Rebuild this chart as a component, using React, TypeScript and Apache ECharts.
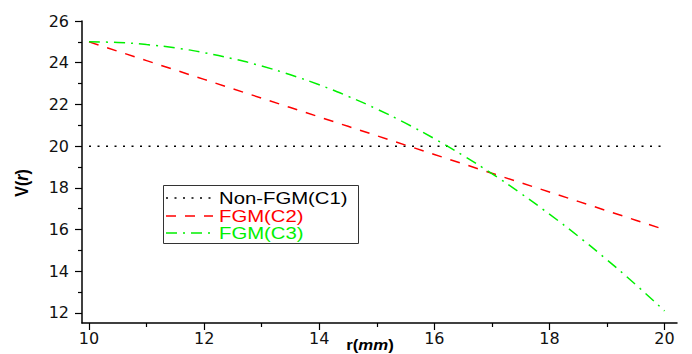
import React, { useEffect, useRef } from 'react';
import * as echarts from 'echarts';

// radius r (mm)
const rValues = [10, 10.5, 11, 11.5, 12, 12.5, 13, 13.5, 14, 14.5, 15, 15.5, 16, 16.5, 17, 17.5, 18, 18.5, 19, 19.5, 20];
// Non-FGM (C1)
const c1Values = [20, 20, 20, 20, 20, 20, 20, 20, 20, 20, 20, 20, 20, 20, 20, 20, 20, 20, 20, 20, 20];
// FGM (C2)
const c2Values = [25, 24.55, 24.1, 23.65, 23.2, 22.75, 22.3, 21.85, 21.4, 20.95, 20.5, 20.05, 19.6, 19.15, 18.7, 18.25, 17.8, 17.35, 16.9, 16.45, 16.0];
// FGM (C3)
const c3Values = [25, 24.97, 24.87, 24.71, 24.48, 24.19, 23.84, 23.42, 22.94, 22.39, 21.78, 21.1, 20.36, 19.55, 18.68, 17.74, 16.74, 15.68, 14.55, 13.36, 12.1];

const seriesNames = ['Non-FGM(C1)', 'FGM(C2)', 'FGM(C3)'];
const seriesColors = ['#000000', '#ff0000', '#00f000'];

const xMajorTicks = [10, 12, 14, 16, 18, 20];
const xMinorTicks = [11, 13, 15, 17, 19];
const yMajorTicks = [12, 14, 16, 18, 20, 22, 24, 26];
const yMinorTicks = [13, 15, 17, 19, 21, 23, 25];

const FONT = 'DejaVu Sans, Arial, sans-serif';
const LFONT = 'Liberation Sans, Arial, sans-serif';

export default function App() {
  const ref = useRef<HTMLDivElement>(null);
  useEffect(() => {
    if (!ref.current) return;
    const chart = echarts.init(ref.current, null, { renderer: 'svg' });
    const pairs = (ys: number[]) => rValues.map((r, i) => [r, ys[i]]);
    const dashes = [[2, 6.5], [10, 9], [11, 6, 2, 6]];
    const lineW = 1.5;

    const xMin = 9.878, xMax = 20.217, yMin = 11.52, yMax = 26;

    const legendRows = [198, 216, 233];
    const legendEls: any[] = [
      {
        type: 'rect',
        shape: { x: 163.5, y: 185.5, width: 195, height: 58 },
        style: { fill: '#fff', stroke: '#333', lineWidth: 1 },
        z: 10,
      },
    ];
    seriesNames.forEach((name, i) => {
      legendEls.push({
        type: 'line',
        shape: { x1: 166, y1: legendRows[i], x2: 213, y2: legendRows[i] },
        style: { stroke: seriesColors[i], lineWidth: lineW, lineDash: dashes[i] },
        z: 11,
      });
      legendEls.push({
        type: 'text',
        x: 219,
        y: legendRows[i],
        scaleX: 1.27,
        style: {
          text: name,
          fill: seriesColors[i],
          fontSize: 16,
          fontFamily: LFONT,
          align: 'left',
          textAlign: 'left',
          verticalAlign: 'middle',
          textVerticalAlign: 'middle',
        },
        z: 11,
      });
    });

    const option: any = {
      animation: false,
      backgroundColor: '#ffffff',
      grid: { left: 82, top: 21, right: 15, bottom: 31, containLabel: false },
      xAxis: [
        {
          type: 'value',
          position: 'bottom',
          min: xMin,
          max: xMax,
          axisLine: { show: true, onZero: false, lineStyle: { color: '#000', width: 1.5 } },
          axisTick: { show: true, length: 7, inside: false, customValues: xMajorTicks, lineStyle: { color: '#000', width: 1.2 } },
          axisLabel: { show: true, customValues: xMajorTicks, margin: 7, color: '#111', fontSize: 16, fontFamily: FONT },
          splitLine: { show: false },
        },
        {
          type: 'value',
          position: 'bottom',
          min: xMin,
          max: xMax,
          axisLine: { show: false, onZero: false },
          axisTick: { show: true, length: 4, inside: false, customValues: xMinorTicks, lineStyle: { color: '#000', width: 1.2 } },
          axisLabel: { show: false },
          splitLine: { show: false },
        },
      ],
      yAxis: [
        {
          type: 'value',
          position: 'left',
          min: yMin,
          max: yMax,
          axisLine: { show: true, onZero: false, lineStyle: { color: '#000', width: 1.5 } },
          axisTick: { show: true, length: 7, inside: false, customValues: yMajorTicks, lineStyle: { color: '#000', width: 1.2 } },
          axisLabel: { show: true, customValues: yMajorTicks, margin: 13, color: '#111', fontSize: 16, fontFamily: FONT },
          splitLine: { show: false },
        },
        {
          type: 'value',
          position: 'left',
          min: yMin,
          max: yMax,
          axisLine: { show: false, onZero: false },
          axisTick: { show: true, length: 4, inside: false, customValues: yMinorTicks, lineStyle: { color: '#000', width: 1.2 } },
          axisLabel: { show: false },
          splitLine: { show: false },
        },
      ],
      series: [
        {
          name: seriesNames[0],
          type: 'line',
          xAxisIndex: 0,
          yAxisIndex: 0,
          data: pairs(c1Values),
          showSymbol: false,
          symbol: 'none',
          lineStyle: { color: seriesColors[0], width: lineW, type: dashes[0] },
        },
        {
          name: seriesNames[1],
          type: 'line',
          xAxisIndex: 0,
          yAxisIndex: 0,
          data: pairs(c2Values),
          showSymbol: false,
          symbol: 'none',
          lineStyle: { color: seriesColors[1], width: lineW, type: dashes[1] },
        },
        {
          name: seriesNames[2],
          type: 'line',
          xAxisIndex: 0,
          yAxisIndex: 0,
          data: pairs(c3Values),
          smooth: true,
          showSymbol: false,
          symbol: 'none',
          lineStyle: { color: seriesColors[2], width: lineW, type: dashes[2] },
        },
      ],
      graphic: [
        ...legendEls,
        {
          type: 'text',
          x: 22,
          y: 183,
          rotation: Math.PI / 2,
          scaleY: 1.1,
          style: {
            text: '{b|V(}{i|r}{b|)}',
            fill: '#000',
            align: 'center',
            textAlign: 'center',
            verticalAlign: 'middle',
            textVerticalAlign: 'middle',
            rich: {
              b: { fontSize: 16, fontWeight: 'bold', fontFamily: LFONT, fill: '#000', color: '#000' },
              i: { fontSize: 16, fontWeight: 'bold', fontStyle: 'italic', fontFamily: LFONT, fill: '#000', color: '#000' },
            },
          },
        },
        {
          type: 'text',
          x: 370,
          y: 337,
          scaleX: 1.12,
          style: {
            text: '{b|r(}{i|mm}{b|)}',
            fill: '#000',
            align: 'center',
            textAlign: 'center',
            verticalAlign: 'top',
            textVerticalAlign: 'top',
            rich: {
              b: { fontSize: 15, lineHeight: 16, fontWeight: 'bold', fontFamily: LFONT, fill: '#000', color: '#000' },
              i: { fontSize: 15, lineHeight: 16, fontWeight: 'bold', fontStyle: 'italic', fontFamily: LFONT, fill: '#000', color: '#000' },
            },
          },
        },
      ],
    };
    chart.setOption(option);
    return () => chart.dispose();
  }, []);
  return <div ref={ref} style={{ width: 692, height: 354, position: 'absolute', left: 0, top: 0 }} />;
}
